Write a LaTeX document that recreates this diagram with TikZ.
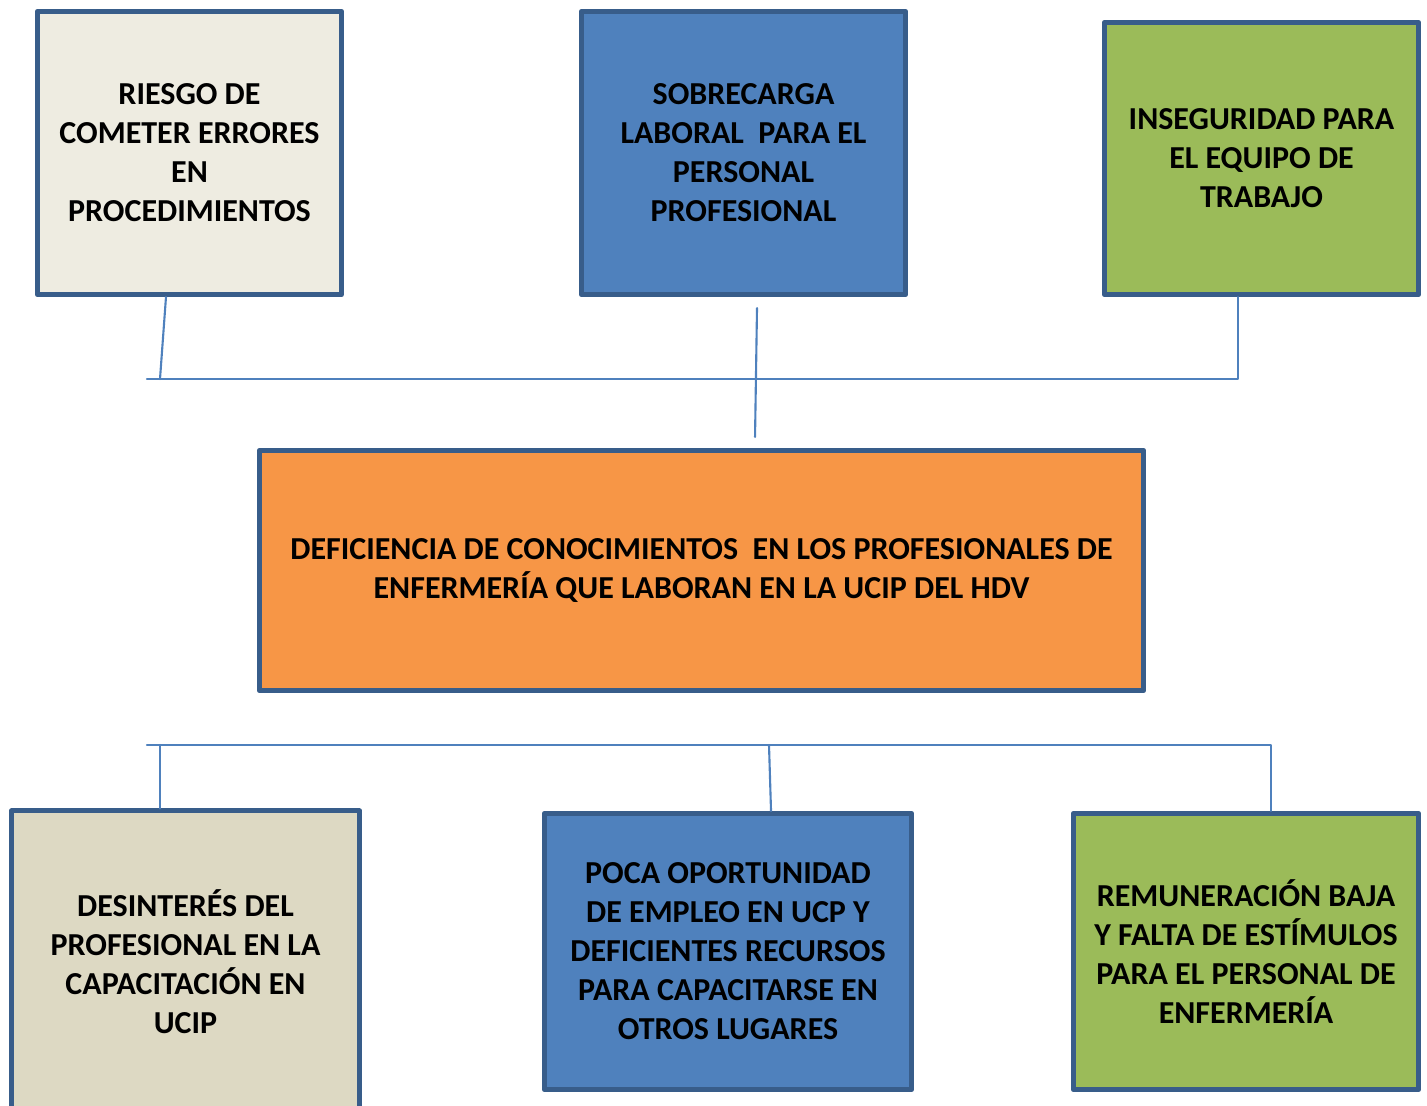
\documentclass[tikz,border=0pt]{standalone}
\usepackage{fontspec}
\setmainfont{Carlito}
\usetikzlibrary{positioning}

\definecolor{bordeazul}{HTML}{385D8A}
\definecolor{lineaazul}{HTML}{4F81BD}
\definecolor{crema}{HTML}{EEECE1}
\definecolor{beige}{HTML}{DDD9C3}
\definecolor{azul}{HTML}{4F81BD}
\definecolor{verde}{HTML}{9BBB59}
\definecolor{naranja}{HTML}{F79646}

\tikzset{
  caja/.style={draw=bordeazul, line width=1.4pt, align=center, inner sep=0pt,
    font=\fontsize{9.1}{11.1}\selectfont\bfseries},
  linea/.style={draw=lineaazul, line width=0.6pt}
}

\begin{document}
\begin{tikzpicture}[x=0.01cm, y=-0.01cm, line cap=round, line join=round]

% Page size of the reference
\useasboundingbox (0,0) rectangle (1427,1105);

% Upper boxes
\node[caja, fill=crema, minimum width=3.04cm, minimum height=2.83cm] (riesgo) at (189.5,153)
  {RIESGO DE\\COMETER ERRORES\\EN\\PROCEDIMIENTOS};
\node[caja, fill=azul, minimum width=3.24cm, minimum height=2.83cm] (sobrecarga) at (743.5,153)
  {SOBRECARGA\\LABORAL\ \ PARA EL\\PERSONAL\\PROFESIONAL};
\node[caja, fill=verde, minimum width=3.14cm, minimum height=2.72cm] (inseguridad) at (1261.5,158.5)
  {INSEGURIDAD PARA\\EL EQUIPO DE\\TRABAJO};

% Central problem
\node[caja, fill=naranja, minimum width=8.84cm, minimum height=2.40cm] (deficiencia) at (701.5,570.5)
  {DEFICIENCIA DE CONOCIMIENTOS\ \ EN LOS PROFESIONALES DE\\ENFERMER\'IA QUE LABORAN EN LA UCIP DEL HDV};

% Lower boxes
\node[caja, fill=beige, minimum width=3.48cm, minimum height=3.02cm] (desinteres) at (185.5,962)
  {DESINTER\'ES DEL\\PROFESIONAL EN LA\\CAPACITACI\'ON EN\\UCIP};
\node[caja, fill=azul, minimum width=3.67cm, minimum height=2.76cm] (oportunidad) at (728,951.5)
  {POCA OPORTUNIDAD\\DE EMPLEO EN UCP Y\\DEFICIENTES RECURSOS\\PARA CAPACITARSE EN\\OTROS LUGARES};
\node[caja, fill=verde, minimum width=3.45cm, minimum height=2.76cm] (remuneracion) at (1246,951.5)
  {REMUNERACI\'ON BAJA\\Y FALTA DE EST\'IMULOS\\PARA EL PERSONAL DE\\ENFERMER\'IA};

% Upper bus
\coordinate (busA) at (147,379);
\coordinate (busB) at (1238,379);
\coordinate (pieA) at (160,379);
\draw[linea] (busA) -- (busB) -- (busB |- inseguridad.south);
\draw[linea] ([xshift=-0.235cm]riesgo.south) -- (pieA);
\draw[linea] ([xshift=0.135cm, yshift=-0.11cm]sobrecarga.south) -- ([xshift=0.535cm, yshift=0.11cm]deficiencia.north);

% Lower bus
\coordinate (busC) at (147,745);
\coordinate (busD) at (1271,745);
\coordinate (pieB) at (769,745);
\draw[linea] (busC) -- (busD) -- (busD |- remuneracion.north);
\draw[linea] ([xshift=-0.255cm]desinteres.north) -- ([xshift=-0.255cm]desinteres.north |- busC);
\draw[linea] (pieB) -- ([xshift=0.43cm]oportunidad.north);

\end{tikzpicture}
\end{document}
